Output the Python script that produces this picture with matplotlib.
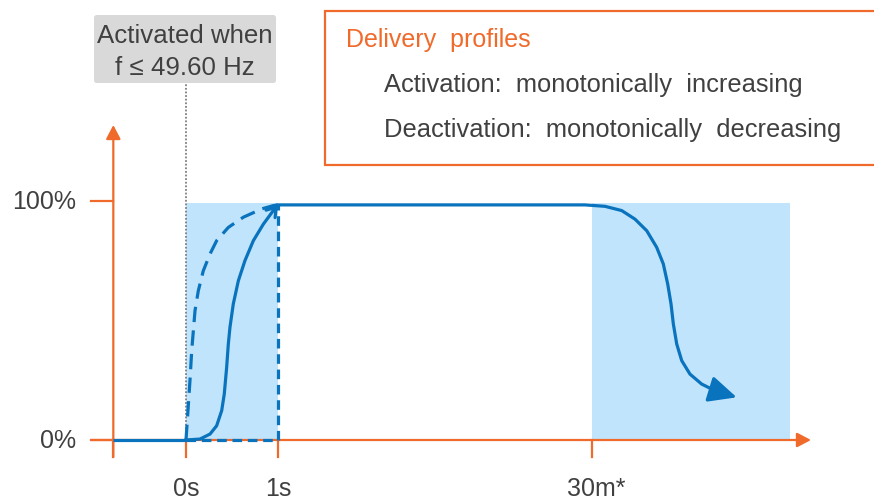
import matplotlib.pyplot as plt
from matplotlib.patches import Rectangle, FancyBboxPatch

plt.rcParams['font.family'] = ['Liberation Sans', 'DejaVu Sans']

# schematic time axis: 0s -> 0, 1s -> 1, 30m* -> 4.41 ; y in percent
x_ticks = [-0.79, 0.0, 1.0, 4.41]
x_labels = ["", "0s", "1s", "30m*"]
y_ticks = [0, 101]
y_labels = ["0%", "100%"]

# activation window and deactivation window (shaded)
act_window = (0.0, 1.0)
deact_window = (4.41, 6.57)

# idle before activation
base_x = [-0.79, 0.0]
base_y = [0, 0]

# solid S-shaped activation
act_x = [0.0, 0.152, 0.261, 0.333, 0.388, 0.416, 0.442, 0.460, 0.478, 0.514, 0.569, 0.641, 0.732, 0.841, 0.949]
act_y = [0.0, 0.4, 2.5, 6.0, 12.4, 19.4, 30.7, 40.5, 47.6, 57.4, 67.2, 75.7, 84.1, 91.1, 96.8]
act_tip = (1.0, 99.2)

# dashed fast activation
fast_x = [0.0, 0.014, 0.043, 0.062, 0.098, 0.134, 0.188, 0.261, 0.333, 0.460, 0.623, 0.823, 0.949, 1.0]
fast_y = [0.0, 8.1, 25.0, 37.7, 54.6, 63.0, 71.4, 78.5, 84.1, 89.7, 94.0, 97.5, 98.9, 99.2]

# dashed step activation
step_x = [0.0, 1.0, 1.0]
step_y = [0, 0, 99.2]

# plateau and deactivation
deact_x = [1.0, 4.337, 4.554, 4.736, 4.880, 5.008, 5.116, 5.188, 5.236, 5.272, 5.297, 5.334, 5.388, 5.478, 5.605, 5.750]
deact_y = [99.2, 99.2, 98.6, 96.8, 93.2, 88.3, 81.3, 74.3, 65.8, 57.4, 49.0, 40.5, 33.5, 27.8, 23.6, 20.8]
deact_tip = (5.986, 18.0)

orange = "#EF6A2B"
blue = "#0A73BE"
shade = "#C0E4FB"
grey = "#404040"
fs = 18

PX_X = 92.0    # pixels per x unit
PX_Y = 2.37    # pixels per percent
X0, Y0 = 186, 441


def px(x, y):
    return ((x - X0) / PX_X, (Y0 - y) / PX_Y)


fig = plt.figure(figsize=(8.74, 5.02), dpi=100)
ax = fig.add_axes([0, 0, 1, 1])
ax.set_xlim(px(0, 0)[0], px(874, 0)[0])
ax.set_ylim(px(0, 502)[1], px(0, 0)[1])
ax.axis('off')

# shaded windows
for a, b in [act_window, deact_window]:
    ax.add_patch(Rectangle((a, 0), b - a, 100, color=shade, lw=0, zorder=1))

# dotted activation marker
ax.plot([0, 0], [0, px(0, 84)[1]], color="#7F7F7F", ls=(0, (1, 1)), lw=1.3, zorder=2)

# axes
tick_bottom = px(0, 458)[1]
ax_left = px(91, 0)[0]
head = "-|>,head_length=0.42,head_width=0.22"
ax.annotate("", xy=(px(811, 0)[0], 0), xytext=(ax_left, 0),
            arrowprops=dict(arrowstyle=head, color=orange, lw=1.6,
                            mutation_scale=20, shrinkA=0, shrinkB=0), zorder=3)
ax.annotate("", xy=(x_ticks[0], px(0, 126)[1]), xytext=(x_ticks[0], tick_bottom),
            arrowprops=dict(arrowstyle=head, color=orange, lw=1.6,
                            mutation_scale=20, shrinkA=0, shrinkB=0), zorder=3)
for xt, lab in zip(x_ticks, x_labels):
    ax.plot([xt, xt], [0, tick_bottom], color=orange, lw=1.6, zorder=3)
    if lab:
        off = 5 if lab.endswith("*") else 0
        ax.annotate(lab, (xt, tick_bottom), xytext=(off, -31), textcoords="offset pixels",
                    ha="center", va="center", fontsize=fs, color=grey)
for yt, lab in zip(y_ticks, y_labels):
    ax.plot([ax_left, x_ticks[0]], [yt, yt], color=orange, lw=1.6, zorder=3)
    ax.annotate(lab, (ax_left, yt), xytext=(-15, 0), textcoords="offset pixels",
                ha="right", va="center", fontsize=fs, color=grey)

# curves
lw = 2.3
ax.plot(base_x, base_y, color=blue, lw=lw, zorder=4, solid_capstyle="butt")
ax.plot(step_x, step_y, color=blue, lw=lw, ls=(0, (3.0, 1.8)), zorder=4)
ax.plot(fast_x, fast_y, color=blue, lw=lw, ls=(0, (4.8, 2.6)), zorder=4)
ax.plot(act_x, act_y, color=blue, lw=lw, zorder=4)
ax.annotate("", xy=act_tip, xytext=(act_x[-1], act_y[-1]),
            arrowprops=dict(arrowstyle="->,head_length=0.45,head_width=0.3", color=blue, lw=lw,
                            mutation_scale=14, shrinkA=0, shrinkB=0), zorder=4)
ax.plot(deact_x, deact_y, color=blue, lw=lw, zorder=4)
ax.annotate("", xy=deact_tip, xytext=(deact_x[-1], deact_y[-1]),
            arrowprops=dict(arrowstyle="-|>,head_length=0.85,head_width=0.4", color=blue, lw=lw,
                            mutation_scale=20, shrinkA=0, shrinkB=0), zorder=4)

# grey activation box
bx0, by0 = px(94, 84)
bx1, by1 = px(276, 16)
ax.add_patch(FancyBboxPatch((bx0, by0), bx1 - bx0, by1 - by0,
                            boxstyle="round,pad=0,rounding_size=0.03",
                            fc="#D9D9D9", ec="none", zorder=5, mutation_aspect=PX_X / PX_Y))
ax.text(*px(185, 36), "Activated when", ha="center", va="center", fontsize=18.6, color=grey, zorder=6)
ax.text(*px(185, 68), "f \u2264 49.60 Hz", ha="center", va="center", fontsize=18.6, color=grey, zorder=6)

# delivery profile box
ox0, oy0 = px(325, 166)
ox1, oy1 = px(900, 12)
ax.add_patch(Rectangle((ox0, oy0), ox1 - ox0, oy1 - oy0, fc="white", ec=orange, lw=1.6,
                       zorder=5, clip_on=False))
ax.text(*px(346, 40), "Delivery  profiles", ha="left", va="center", fontsize=fs, color=orange, zorder=6)
ax.text(*px(384, 85), "Activation:  monotonically  increasing", ha="left", va="center",
        fontsize=18.4, color=grey, zorder=6)
ax.text(*px(384, 130), "Deactivation:  monotonically  decreasing", ha="left", va="center",
        fontsize=18.4, color=grey, zorder=6)

fig.savefig("out.png", dpi=100)
